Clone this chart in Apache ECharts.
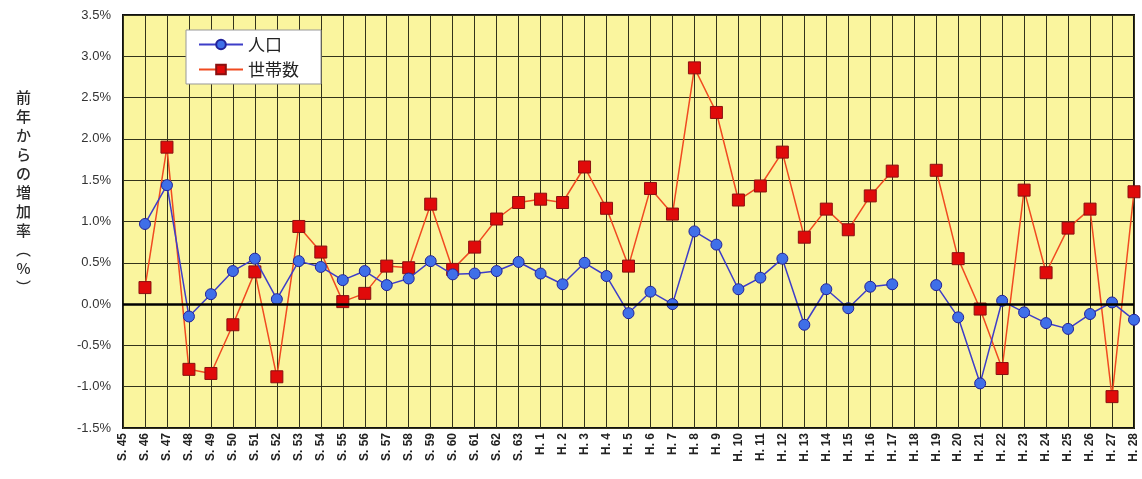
<!DOCTYPE html>
<html>
<head>
<meta charset="utf-8">
<script src="https://cdn.jsdelivr.net/npm/echarts@6/dist/echarts.min.js"></script>
<style>
html,body{margin:0;padding:0;background:#fff;}
#c{width:1142px;height:479px;}
</style>
</head>
<body>
<div id="c"></div>
<script>
const categories = ['S. 45','S. 46','S. 47','S. 48','S. 49','S. 50','S. 51','S. 52','S. 53','S. 54','S. 55','S. 56','S. 57','S. 58','S. 59','S. 60','S. 61','S. 62','S. 63',
  'H. 1','H. 2','H. 3','H. 4','H. 5','H. 6','H. 7','H. 8','H. 9','H. 10','H. 11','H. 12','H. 13','H. 14','H. 15','H. 16','H. 17','H. 18','H. 19','H. 20','H. 21','H. 22','H. 23','H. 24','H. 25','H. 26','H. 27','H. 28'];

const population = [null,0.97,1.44,-0.15,0.12,0.40,0.55,0.06,0.52,0.45,0.29,0.40,0.23,0.31,0.52,0.36,0.37,0.40,0.51,
  0.37,0.24,0.50,0.34,-0.11,0.15,0.00,0.88,0.72,0.18,0.32,0.55,-0.25,0.18,-0.05,0.21,0.24,null,0.23,-0.16,-0.96,0.04,-0.10,-0.23,-0.30,-0.12,0.02,-0.19];

const households = [null,0.20,1.90,-0.79,-0.84,-0.25,0.39,-0.88,0.94,0.63,0.03,0.13,0.46,0.44,1.21,0.42,0.69,1.03,1.23,
  1.27,1.23,1.66,1.16,0.46,1.40,1.09,2.86,2.32,1.26,1.43,1.84,0.81,1.15,0.90,1.31,1.61,null,1.62,0.55,-0.06,-0.78,1.38,0.38,0.92,1.15,-1.12,1.36];

const yMin = -1.5, yMax = 3.5, yStep = 0.5;
const seriesNames = ['人口','世帯数'];
const yAxisTitle = '前\n年\nか\nら\nの\n増\n加\n率\n︵\n%\n︶';

const chart = echarts.init(document.getElementById('c'));
chart.setOption({
  animation: false,
  backgroundColor: '#ffffff',
  grid: {left:123, right:8, top:15, bottom:51, show:true, backgroundColor:'#FAF59E', borderColor:'#111', borderWidth:2},
  legend: {
    left:186, top:30, orient:'vertical', itemGap:8, itemWidth:44, itemHeight:12,
    backgroundColor:'#ffffff', borderColor:'#999', borderWidth:1, padding:[6,22,6,12],
    textStyle:{fontSize:17, color:'#222', fontFamily:'Noto Sans CJK JP'},
    data: seriesNames
  },
  graphic: [{
    type:'text', left:16, top:88,
    style:{text:yAxisTitle, font:'500 15px "Noto Sans CJK JP"', fill:'#2a2a2a', lineHeight:19, textAlign:'center'}
  }],
  xAxis: {
    type:'category', data:categories, boundaryGap:false,
    axisLine:{show:false}, axisTick:{show:false},
    axisLabel:{rotate:90, interval:0, fontSize:12, fontWeight:'bold', color:'#222', margin:5, fontFamily:'Liberation Sans'},
    splitLine:{show:true, lineStyle:{color:'#33331a', width:1}}
  },
  yAxis: {
    type:'value', min:yMin, max:yMax, interval:yStep,
    axisLine:{show:false}, axisTick:{show:false},
    axisLabel:{formatter:v=>v.toFixed(1)+'%', fontSize:13, color:'#333', margin:12, fontFamily:'Liberation Sans'},
    splitLine:{show:true, lineStyle:{color:'#33331a', width:1}}
  },
  series: [
    {
      name:seriesNames[0], type:'line', data:population, connectNulls:false,
      symbol:'circle', symbolSize:11,
      lineStyle:{color:'#3d3dc8', width:1.5},
      itemStyle:{color:'#3f6fe8', borderColor:'#22229a', borderWidth:1},
      z:3,
      markLine:{silent:true, symbol:'none', label:{show:false}, lineStyle:{color:'#000', width:2.5, type:'solid'}, data:[{yAxis:0}]}
    },
    {
      name:seriesNames[1], type:'line', data:households, connectNulls:false,
      symbol:'rect', symbolSize:12,
      lineStyle:{color:'#f04a20', width:1.5},
      itemStyle:{color:'#e00a0a', borderColor:'#8a1010', borderWidth:1},
      z:2
    }
  ]
});
</script>
</body>
</html>
